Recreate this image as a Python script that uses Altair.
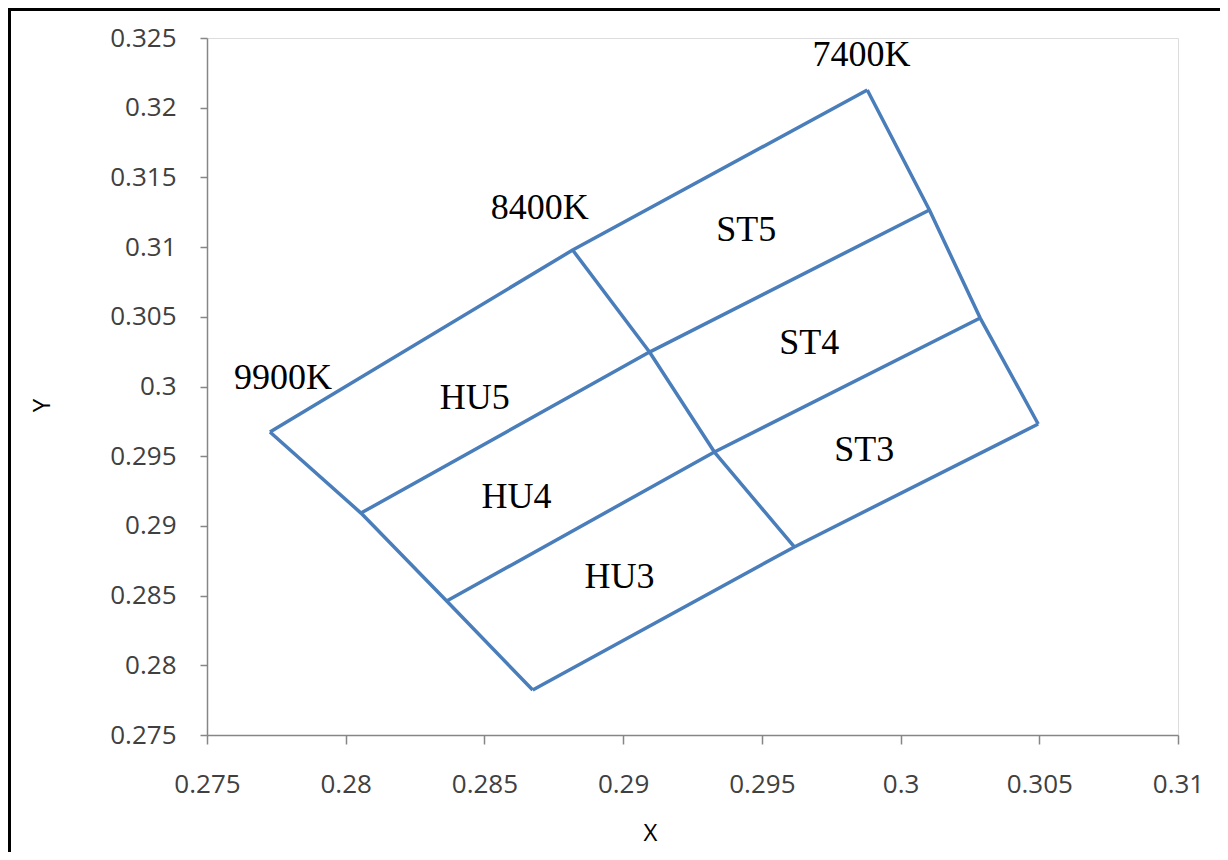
import altair as alt
import pandas as pd

# Grid corner points (4 rows x 3 columns)
row1_x = [0.27727, 0.28818, 0.29880]
row1_y = [0.29674, 0.30979, 0.32127]
row2_x = [0.28055, 0.29095, 0.30104]
row2_y = [0.29092, 0.30247, 0.31266]
row3_x = [0.28364, 0.29329, 0.30287]
row3_y = [0.28461, 0.29530, 0.30491]
row4_x = [0.28674, 0.29617, 0.30496]
row4_y = [0.27823, 0.28849, 0.29731]

label_text = ["9900K", "8400K", "7400K", "ST5", "ST4", "ST3", "HU5", "HU4", "HU3"]
label_x = [0.27774, 0.28699, 0.29859, 0.29444, 0.29671, 0.29869, 0.28465, 0.28616, 0.28987]
label_y = [0.30060, 0.31280, 0.32378, 0.31123, 0.30312, 0.29544, 0.29918, 0.29207, 0.28633]

x_ticks = [0.275, 0.28, 0.285, 0.29, 0.295, 0.3, 0.305, 0.31]
y_ticks = [0.275, 0.28, 0.285, 0.29, 0.295, 0.3, 0.305, 0.31, 0.315, 0.32, 0.325]

rows_x = [row1_x, row2_x, row3_x, row4_x]
rows_y = [row1_y, row2_y, row3_y, row4_y]

recs = []
for r in range(4):
    for c in range(3):
        recs.append({"seg": f"r{r}", "ord": c, "x": rows_x[r][c], "y": rows_y[r][c]})
for c in range(3):
    for r in range(4):
        recs.append({"seg": f"c{c}", "ord": r, "x": rows_x[r][c], "y": rows_y[r][c]})
lines_df = pd.DataFrame(recs)
labels_df = pd.DataFrame({"t": label_text, "x": label_x, "y": label_y})

LABEL_FONT = "Open Sans"

xscale = alt.Scale(domain=[0.275, 0.31], nice=False, zero=False)
yscale = alt.Scale(domain=[0.275, 0.325], nice=False, zero=False)

xaxis = alt.Axis(values=x_ticks, format="~g", grid=False, title="X",
                 domainColor="#868686", tickColor="#868686", domainWidth=1.5, tickWidth=1.5,
                 tickSize=9, labelFont=LABEL_FONT, labelFontSize=26, labelColor="#404040",
                 labelBaseline="middle", labelPadding=40, labelFlush=False,
                 titleFont=LABEL_FONT, titleFontSize=24, titleFontWeight="normal", titleColor="#000000",
                 titleX=443, titleY=98, titleBaseline="middle", titleAlign="center")
yaxis = alt.Axis(values=y_ticks, format="~g", grid=False, title="Y",
                 domainColor="#868686", tickColor="#868686", domainWidth=1.5, tickWidth=1.5,
                 tickSize=7, labelFont=LABEL_FONT, labelFontSize=26, labelColor="#404040",
                 labelPadding=24, labelFlush=False,
                 titleFont=LABEL_FONT, titleFontSize=24, titleFontWeight="normal", titleColor="#000000",
                 titleX=-165, titleY=367, titleBaseline="middle", titleAlign="center", titleAngle=270)

lines = alt.Chart(lines_df).mark_line(color="#4A7EBB", strokeWidth=3.5, strokeJoin="round").encode(
    x=alt.X("x:Q", scale=xscale, axis=xaxis),
    y=alt.Y("y:Q", scale=yscale, axis=yaxis),
    detail="seg:N",
    order="ord:Q",
)

texts = alt.Chart(labels_df).mark_text(font="Liberation Serif", fontSize=36, color="#000000",
                                       align="center", baseline="middle").encode(
    x=alt.X("x:Q", scale=xscale),
    y=alt.Y("y:Q", scale=yscale),
    text="t:N",
)

frame = alt.Chart(alt.Data(values=[{"a": 1}])).mark_rect(
    fillOpacity=0, stroke="#000000", strokeWidth=3
).encode(
    x=alt.value(-197.5), x2=alt.value(1100), y=alt.value(-28.5), y2=alt.value(900)
)

chart = alt.layer(frame, lines, texts).properties(
    width=971, height=697,
    autosize=alt.AutoSizeParams(type="none"),
    padding={"left": 199, "top": 30, "right": 42, "bottom": 117},
).configure_view(stroke=None).configure(background="white")

chart.save("out.html", embed_options={"renderer": "svg", "actions": False})
